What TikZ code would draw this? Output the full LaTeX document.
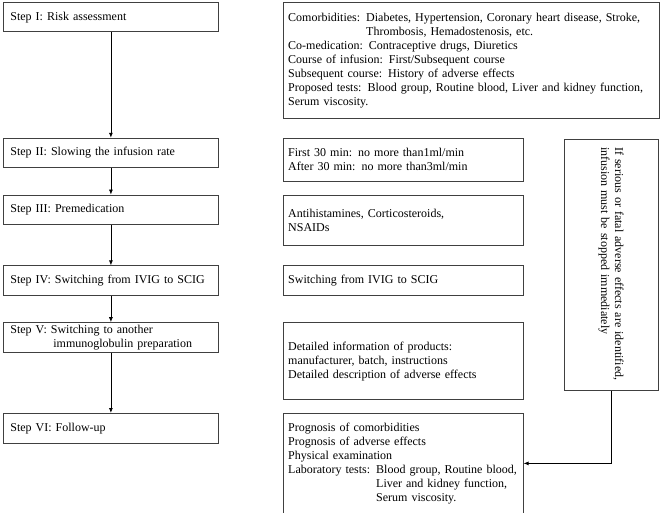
\documentclass[tikz,border=0pt]{standalone}
\usepackage{fontspec}
\setmainfont{Liberation Serif}
\usetikzlibrary{positioning,arrows.meta}
\tikzset{every picture/.style={line width=0.8pt}}

\begin{document}
\begin{tikzpicture}[x=1pt, y=1pt, >={Latex[length=5pt,width=4pt]},
    stepbox/.style={draw=black!75, rectangle, minimum height=29.5pt, text width=201pt, inner xsep=7pt, inner ysep=1pt, align=left, font=\fontsize{12}{14}\selectfont},
    infobox/.style={draw=black!75, rectangle, text width=230pt, inner xsep=5pt, inner ysep=1pt, align=left, font=\fontsize{12}{14}\selectfont}]
    \useasboundingbox (0,0) rectangle (661,-513);

    % Steps
    \node[stepbox, anchor=north west] (s1) at (3,-2) {Step I: Risk assessment};
    \node[stepbox, below=105.5pt of s1] (s2) {Step II: Slowing the infusion rate};
    \node[stepbox, below=26.5pt of s2] (s3) {Step III: Premedication};
    \node[stepbox, below=40.5pt of s3] (s4) {Step IV: Switching from IVIG to SCIG};
    \node[stepbox, below=26.5pt of s4] (s5) {Step V: Switching to another\\\hspace*{43pt}immunoglobulin preparation};
    \node[stepbox, below=60.5pt of s5] (s6) {Step VI: Follow-up};

    % Details of each step
    \node[infobox, text width=366pt, minimum height=116pt, right=64pt of s1.north east, anchor=north west] (r1) {Comorbidities: Diabetes, Hypertension, Coronary heart disease, Stroke,\\
        \phantom{Comorbidities: }Thrombosis, Hemadostenosis, etc.\\
        Co-medication: Contraceptive drugs, Diuretics\\
        Course of infusion: First/Subsequent course\\
        Subsequent course: History of adverse effects\\
        Proposed tests: Blood group, Routine blood, Liver and kidney function,\\
        Serum viscosity.};
    \node[infobox, minimum height=43pt, right=64pt of s2.north east, anchor=north west] (r2) {First 30 min: no more than1ml/min\\After 30 min: no more than3ml/min};
    \node[infobox, minimum height=50pt, right=64pt of s3.north east, anchor=north west] (r3) {Antihistamines, Corticosteroids,\\NSAIDs};
    \node[infobox, minimum height=29.5pt, right=64pt of s4.north east, anchor=north west] (r4) {Switching from IVIG to SCIG};
    \node[infobox, minimum height=77pt, right=64pt of s5.north east, anchor=north west] (r5) {Detailed information of products:\\manufacturer, batch, instructions\\Detailed description of adverse effects};
    \node[infobox, minimum height=100pt, right=64pt of s6.north east, anchor=north west] (r6) {Prognosis of comorbidities\\Prognosis of adverse effects\\Physical examination\\
        Laboratory tests: Blood group, Routine blood,\\
        \phantom{Laboratory tests: }Liver and kidney function,\\
        \phantom{Laboratory tests: }Serum viscosity.};

    % Stop warning
    \node[draw=black!75, rectangle, rotate=-90, minimum width=251pt, minimum height=94pt, text width=235pt, inner xsep=8pt, align=left, font=\fontsize{12}{14}\selectfont, anchor=south west] (stop) at ([xshift=40pt,yshift=-1pt]r2.north east) {If serious or fatal adverse effects are identified,\\infusion must be stopped immediately};

    % Connections
    \draw[->] (s1) -- (s2);
    \draw[->] (s2) -- (s3);
    \draw[->] (s3) -- (s4);
    \draw[->] (s4) -- (s5);
    \draw[->] (s5) -- (s6);
    \draw[->] (stop.east) |- (r6.east);
\end{tikzpicture}
\end{document}
